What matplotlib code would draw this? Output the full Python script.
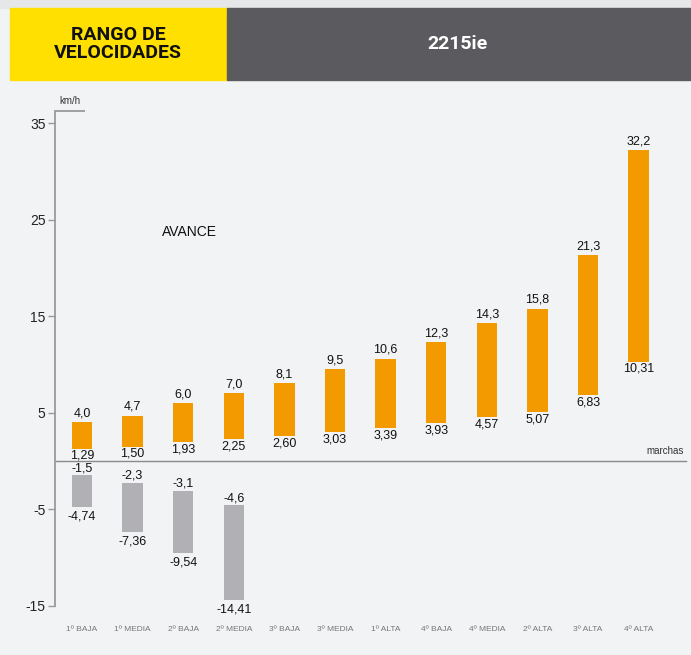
import numpy as np
import matplotlib.pyplot as plt
from matplotlib.patches import Rectangle

plt.rcParams['axes.unicode_minus'] = False
plt.rcParams['font.family'] = ['Liberation Sans', 'DejaVu Sans']

cats = ['1º BAJA', '1º MEDIA', '2º BAJA', '2º MEDIA', '3º BAJA', '3º MEDIA',
        '1º ALTA', '4º BAJA', '4º MEDIA', '2º ALTA', '3º ALTA', '4º ALTA']
fwd_min = [1.29, 1.50, 1.93, 2.25, 2.60, 3.03, 3.39, 3.93, 4.57, 5.07, 6.83, 10.31]
fwd_max = [4.0, 4.7, 6.0, 7.0, 8.1, 9.5, 10.6, 12.3, 14.3, 15.8, 21.3, 32.2]
rev_max = [-1.5, -2.3, -3.1, -4.6]
rev_min = [-4.74, -7.36, -9.54, -14.41]
yticks = [35, 25, 15, 5, -5, -15]

ORANGE = '#f39a00'
GREY = '#b1b0b5'
BG = '#f2f3f5'

def fmt(v, d):
    return f'{v:.{d}f}'.replace('.', ',')

fig = plt.figure(figsize=(6.91, 6.55), dpi=100, facecolor=BG)

# header
W, H = 691, 655
fig.patches.append(Rectangle((0, 1 - 8 / H), 1, 8 / H, transform=fig.transFigure,
                             color='#e6e7e9', zorder=0))
fig.patches.append(Rectangle((10 / W, 1 - 80 / H), 217 / W, 72 / H, transform=fig.transFigure,
                             color='#ffe000', zorder=1))
fig.patches.append(Rectangle((227 / W, 1 - 80 / H), 464 / W, 72 / H, transform=fig.transFigure,
                             color='#5b5a5f', zorder=1))
fig.text(118 / W, 1 - 44 / H, 'RANGO DE\nVELOCIDADES', ha='center', va='center',
         fontsize=14, fontweight='bold', color='#111111', linespacing=1.05,
         family=['Roboto', 'DejaVu Sans'])
fig.text(458 / W, 1 - 44 / H, '2215ie', ha='center', va='center',
         fontsize=14, fontweight='bold', color='white', family=['Roboto', 'DejaVu Sans'])

# axes: 50.6 px per category starting at x=82, 9.65 px per km/h with 0 at y=461
x0, x1 = -0.6, 12.0
ylo, yhi = -17, 38
left = (82 + x0 * 50.6) / W
right = (82 + x1 * 50.6) / W
bottom = 1 - (461 - ylo * 9.65) / H
top = 1 - (461 - yhi * 9.65) / H
ax = fig.add_axes([left, bottom, right - left, top - bottom])
ax.set_facecolor('none')
ax.set_xlim(x0, x1)
ax.set_ylim(ylo, yhi)

x = np.arange(len(cats))
xr = x[:len(rev_max)]
ax.bar(x, np.array(fwd_max) - np.array(fwd_min), bottom=fwd_min, width=0.4,
       color=ORANGE, zorder=3)
ax.bar(xr, np.array(rev_max) - np.array(rev_min), bottom=rev_min, width=0.4,
       color=GREY, zorder=3)

fs = 9
for xi, lo, hi in zip(x, fwd_min, fwd_max):
    ax.annotate(fmt(hi, 1), (xi, hi), xytext=(0, 2), textcoords='offset points',
                ha='center', va='bottom', fontsize=fs, color='#111111')
    ax.annotate(fmt(lo, 2), (xi, lo), xytext=(0, -1), textcoords='offset points',
                ha='center', va='top', fontsize=fs, color='#111111')
for xi, lo, hi in zip(xr, rev_min, rev_max):
    ax.annotate(fmt(hi, 1), (xi, hi), xytext=(0, 1), textcoords='offset points',
                ha='center', va='bottom', fontsize=fs, color='#111111')
    ax.annotate(fmt(lo, 2), (xi, lo), xytext=(0, -2.5), textcoords='offset points',
                ha='center', va='top', fontsize=fs, color='#111111')

# axis lines
ax_x = -0.53
ax_top = 36.3
for s in ['top', 'right', 'bottom']:
    ax.spines[s].set_visible(False)
ax.spines['left'].set_position(('data', ax_x))
ax.spines['left'].set_bounds(-15, ax_top)
ax.spines['left'].set_color('#9a9a9a')
ax.spines['left'].set_linewidth(1.3)
ax.plot([ax_x, 0.06], [ax_top, ax_top], color='#9a9a9a', lw=1.3, solid_capstyle='butt')
ax.plot([ax_x, 11.94], [0, 0], color='#8a8a8a', lw=1.0, zorder=2)
ax.set_yticks(yticks)
ax.set_yticklabels([str(t) for t in yticks])
ax.tick_params(axis='y', length=5, width=1, color='#9a9a9a', labelsize=10,
               labelcolor='#222222', pad=2)
ax.set_xticks([])
ax.text(ax_x + 0.29, ax_top + 0.5, 'km/h', ha='center', va='bottom', fontsize=7,
        color='#333333')
ax.text(11.90, 0.5, 'marchas', ha='right', va='bottom', fontsize=7, color='#333333')
ax.text(2.13, 23.7, 'AVANCE', ha='center', va='center', fontsize=10, color='#111111')

for xi, c in zip(x, cats):
    ax.text(xi, -17.5, c, ha='center', va='center', fontsize=6, color='#777777')

fig.savefig('out.png', dpi=100, facecolor=BG)
